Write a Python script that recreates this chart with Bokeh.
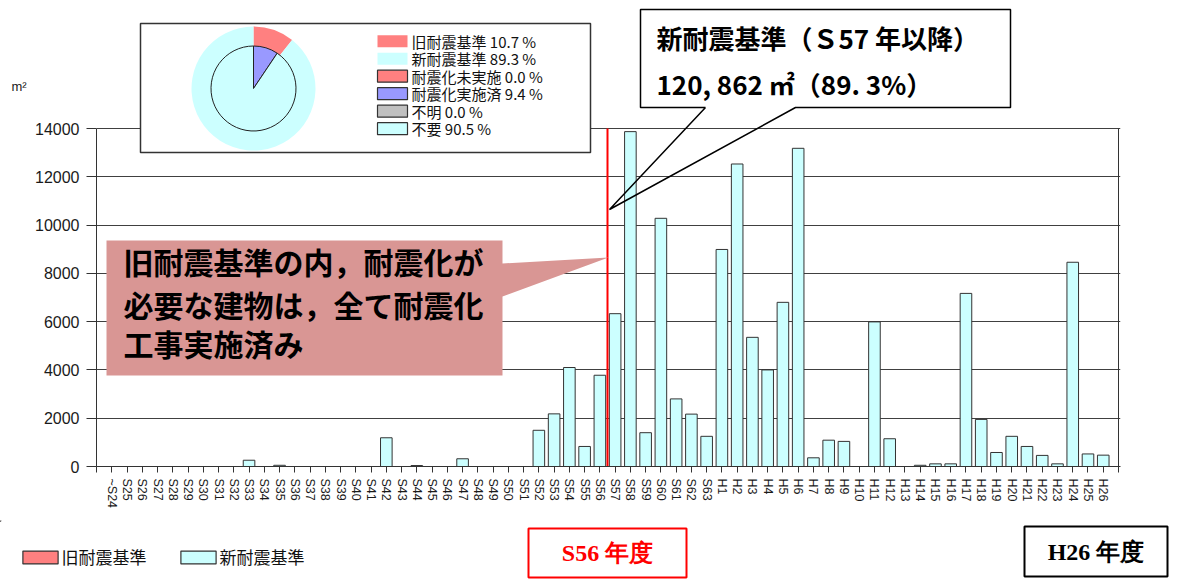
import math
from bokeh.plotting import figure
from bokeh.layouts import column, row
from bokeh.models import (ColumnDataSource, Range1d, FixedTicker, Legend, LegendItem)
from bokeh.core.properties import value
from bokeh.embed import file_html
from bokeh.resources import INLINE

# ---------------- data ----------------
categories = ["~S24", "S25", "S26", "S27", "S28", "S29", "S30", "S31", "S32", "S33",
              "S34", "S35", "S36", "S37", "S38", "S39", "S40", "S41", "S42", "S43",
              "S44", "S45", "S46", "S47", "S48", "S49", "S50", "S51", "S52", "S53",
              "S54", "S55", "S56", "S57", "S58", "S59", "S60", "S61", "S62", "S63",
              "H1", "H2", "H3", "H4", "H5", "H6", "H7", "H8", "H9", "H10",
              "H11", "H12", "H13", "H14", "H15", "H16", "H17", "H18", "H19", "H20",
              "H21", "H22", "H23", "H24", "H25", "H26"]
floor_area = [0, 0, 0, 0, 0, 0, 0, 0, 0, 260,
              0, 50, 0, 0, 0, 0, 0, 0, 1190, 0,
              40, 0, 0, 320, 0, 0, 0, 0, 1500, 2180,
              4100, 830, 3780, 6330, 13870, 1400, 10280, 2800, 2170, 1250,
              8990, 12530, 5350, 4000, 6800, 13180, 360, 1090, 1040, 0,
              5990, 1150, 0, 50, 110, 110, 7170, 1950, 580, 1250,
              830, 460, 110, 8460, 520, 470]
y_ticks = [0, 2000, 4000, 6000, 8000, 10000, 12000, 14000]

standard_labels = ["旧耐震基準", "新耐震基準"]
standard_pct = [10.7, 89.3]
retrofit_labels = ["耐震化未実施", "耐震化実施済", "不明", "不要"]
retrofit_pct = [0.0, 9.4, 0.0, 90.5]

first_new_category = "S57"
new_std_lines = ["新耐震基準（Ｓ57 年以降）", "120, 862 ㎡（89. 3%）"]
old_std_lines = ["旧耐震基準の内，耐震化が", "必要な建物は，全て耐震化", "工事実施済み"]
start_year_text = "S56 年度"
end_year_text = "H26 年度"
unit_text = "m²"

# ---------------- styling / layout ----------------
OLD_C = "#FF8080"
NEW_C = "#CCFFFF"
DONE_C = "#9999FF"
UNK_C = "#C0C0C0"
standard_colors = [OLD_C, NEW_C]
retrofit_colors = [OLD_C, DONE_C, UNK_C, NEW_C]
JP = "Noto Sans CJK JP"

TOTAL_W = 1180
UNIT_W = 30              # narrow strip left of the main figure (holds the unit text)
TOP_H = 520              # height of the chart row
BOT_H = 67               # strip below (legend + year boxes)
FL, FR, FT, FB = 96, 1120, 0, 466   # main frame edges in page pixels
PLOT_RIGHT = 1118
Y_TOP_PIX = 128

n = len(categories)
unit = (PLOT_RIGHT - FL) / (n + 1)
x_end = -1 + (FR - FL) / unit
y_end = y_ticks[-1] * (FB - FT) / (FB - Y_TOP_PIX)


def blank_fig(w, h, x0, x1, y_bottom, y_top):
    f = figure(width=w, height=h, output_backend="svg", toolbar_location=None,
               x_range=Range1d(x0, x1), y_range=Range1d(y_bottom, y_top),
               x_axis_location=None, y_axis_location=None,
               min_border=0, min_border_left=0, min_border_right=0,
               min_border_top=0, min_border_bottom=0,
               background_fill_color="white", border_fill_color="white")
    f.outline_line_color = None
    f.grid.visible = False
    return f


# ---------------- unit strip ----------------
unit_fig = blank_fig(UNIT_W, TOP_H, 0, UNIT_W, TOP_H, 0)
unit_fig.text(x=[11], y=[96], text=[unit_text], text_font=value("Liberation Sans"),
              text_font_size="13px", text_color="#202020",
              text_baseline="middle", text_align="left")

# ---------------- main chart ----------------
MAIN_W = TOTAL_W - UNIT_W
p = figure(width=MAIN_W, height=TOP_H, output_backend="svg", toolbar_location=None,
           x_range=Range1d(-1, x_end), y_range=Range1d(0, y_end),
           min_border_left=FL - UNIT_W, min_border_right=TOTAL_W - FR,
           min_border_top=0, min_border_bottom=TOP_H - FB,
           background_fill_color="white", border_fill_color="white")
p.outline_line_color = None
p.extra_x_ranges = {"px": Range1d(FL, FR)}
p.extra_y_ranges = {"py": Range1d(FB, FT)}

# axes
p.xaxis.ticker = FixedTicker(ticks=list(range(-1, n + 1)))
overrides = {i: c for i, c in enumerate(categories)}
overrides[-1] = ""
overrides[n] = ""
p.xaxis.major_label_overrides = overrides
p.xaxis.major_label_orientation = -math.pi / 2
p.xaxis.major_tick_out = 6
p.xaxis.major_tick_in = 0
p.xaxis.minor_tick_line_color = None
p.xaxis.major_label_standoff = 6
p.xaxis.major_label_text_font = "Liberation Sans"
p.xaxis.major_label_text_font_size = "12.5px"
p.xaxis.major_label_text_color = "#1a1a1a"
p.xaxis.axis_line_color = "#333333"
p.xaxis.major_tick_line_color = "#333333"

p.yaxis.ticker = FixedTicker(ticks=y_ticks)
p.yaxis.bounds = (y_ticks[0], y_ticks[-1])
p.yaxis.major_tick_out = 10
p.yaxis.major_tick_in = 0
p.yaxis.minor_tick_line_color = None
p.yaxis.major_label_standoff = 7
p.yaxis.major_label_text_font = "Liberation Sans"
p.yaxis.major_label_text_font_size = "16px"
p.yaxis.major_label_text_color = "#1a1a1a"
p.yaxis.axis_line_color = "#333333"
p.yaxis.major_tick_line_color = "#333333"
p.yaxis.formatter.use_scientific = False

p.xgrid.visible = False
p.ygrid.grid_line_color = "#404040"
p.ygrid.grid_line_width = 1

# bars
src = ColumnDataSource(dict(x=list(range(n)), area=floor_area, cat=categories))
bars = p.vbar(x="x", top="area", width=0.76, source=src,
              fill_color=NEW_C, line_color="#333333", line_width=1)

# right border of plot box
p.segment(x0=[n], y0=[y_ticks[0]], x1=[n], y1=[y_ticks[-1]], line_color="#333333", line_width=1)

# boundary between old / new standard
split = categories.index(first_new_category) - 0.5
p.segment(x0=[split], y0=[y_ticks[0]], x1=[split], y1=[y_ticks[-1]],
          line_color="#FF0000", line_width=2)

# ---------------- pie inset ----------------
p.quad(left=[140], right=[590], top=[23], bottom=[152], fill_color="white",
       line_color="#333333", line_width=1.5, x_range_name="px", y_range_name="py")


def wedge_angles(pcts):
    tot = sum(pcts)
    starts, ends, acc = [], [], 0.0
    for v in pcts:
        starts.append(math.pi / 2 - 2 * math.pi * acc / tot)
        acc += v
        ends.append(math.pi / 2 - 2 * math.pi * acc / tot)
    return starts, ends


def draw_ring(pcts, colors, radius, **style):
    s, e = wedge_angles(pcts)
    keep = [i for i, v in enumerate(pcts) if v > 0]   # zero slices are not drawn
    p.wedge(x=[PCX] * len(keep), y=[PCY] * len(keep), radius=radius,
            radius_units="screen", start_angle=[s[i] for i in keep],
            end_angle=[e[i] for i in keep], direction="clock",
            fill_color=[colors[i] for i in keep],
            x_range_name="px", y_range_name="py", **style)


PCX, PCY = 253, 88
draw_ring(standard_pct, standard_colors, 62, line_color=None)
draw_ring(retrofit_pct, retrofit_colors, 42.5, line_color="#222222", line_width=1)

leg_labels = standard_labels + retrofit_labels
leg_pct = standard_pct + retrofit_pct
leg_colors = standard_colors + retrofit_colors
leg_border = [0, 0] + [1] * len(retrofit_labels)
row_y = [40.7 + 17.5 * i for i in range(len(leg_labels))]
p.quad(left=[377] * len(row_y), right=[407] * len(row_y),
       top=[y - 6 for y in row_y], bottom=[y + 6 for y in row_y],
       fill_color=leg_colors, line_color="#333333", line_alpha=leg_border, line_width=1.2,
       x_range_name="px", y_range_name="py")
p.text(x=[411] * len(row_y), y=row_y,
       text=[f"{lab}  {v:.1f} %" for lab, v in zip(leg_labels, leg_pct)],
       text_font=value(JP), text_font_size="15px", text_color="#111111",
       text_baseline="middle", text_align="left",
       x_range_name="px", y_range_name="py")

# ---------------- callouts ----------------
p.patch(x=[106, 502, 502, 608, 502, 502, 106],
        y=[240, 240, 263, 257, 296, 375, 375],
        fill_color="#D99694", line_color=None, x_range_name="px", y_range_name="py")
p.text(x=[123] * 3, y=[260, 303, 342], text=old_std_lines,
       text_font=value(JP), text_font_style="bold", text_font_size="30px",
       text_color="black", text_baseline="middle", text_align="left",
       x_range_name="px", y_range_name="py")

p.quad(left=[640], right=[1010], top=[9], bottom=[107], fill_color="white",
       line_color=None, x_range_name="px", y_range_name="py")
p.line(x=[705, 640, 640, 1010, 1010, 795, 609, 705],
       y=[107, 107, 9, 9, 107, 107, 209, 107],
       line_color="black", line_width=1.5, x_range_name="px", y_range_name="py")
p.text(x=[656, 656], y=[37, 83], text=new_std_lines,
       text_font=value(JP), text_font_style="bold", text_font_size="26px",
       text_color="black", text_baseline="middle", text_align="left",
       x_range_name="px", y_range_name="py")

# ---------------- bottom strip: legend + year boxes ----------------
bot = blank_fig(TOTAL_W, BOT_H, 0, TOTAL_W, TOP_H + BOT_H, TOP_H)
# swatch renderers placed outside the visible range (only their legend glyphs show)
old_sw = bot.vbar(x=[-500], top=[TOP_H + 1], bottom=TOP_H, width=1,
                  fill_color=OLD_C, line_color="#333333", line_width=1.2)
new_sw = bot.vbar(x=[-500], top=[TOP_H + 1], bottom=TOP_H, width=1,
                  fill_color=NEW_C, line_color="#333333", line_width=1.2)
legend = Legend(items=[LegendItem(label=standard_labels[0], renderers=[old_sw]),
                       LegendItem(label=standard_labels[1], renderers=[new_sw])],
                orientation="horizontal", location=(17.6, TOP_H + BOT_H - 569.4),
                glyph_width=44, glyph_height=16, label_height=20, label_standoff=0,
                spacing=29, padding=0, margin=0, border_line_color=None,
                background_fill_alpha=0, label_text_font=JP,
                label_text_font_size="17px", label_text_color="#111111")
bot.add_layout(legend)

year_left = [528, 1024]
year_right = [686, 1167]
year_top = [528, 526]
year_bottom = [577, 576]
year_color = ["#FF0000", "#000000"]
bot.quad(left=year_left, right=year_right, top=year_top, bottom=year_bottom,
         fill_alpha=0, line_color=year_color, line_width=2)
bot.text(x=[(l + r) / 2 for l, r in zip(year_left, year_right)],
         y=[(t + b) / 2 for t, b in zip(year_top, year_bottom)],
         text=[start_year_text, end_year_text], text_color=year_color,
         text_font=value("Liberation Serif"), text_font_style="bold",
         text_font_size="24px", text_align="center", text_baseline="middle")

layout = column(row(unit_fig, p, spacing=0), bot, spacing=0)
open("out.html", "w").write(file_html(layout, INLINE))
